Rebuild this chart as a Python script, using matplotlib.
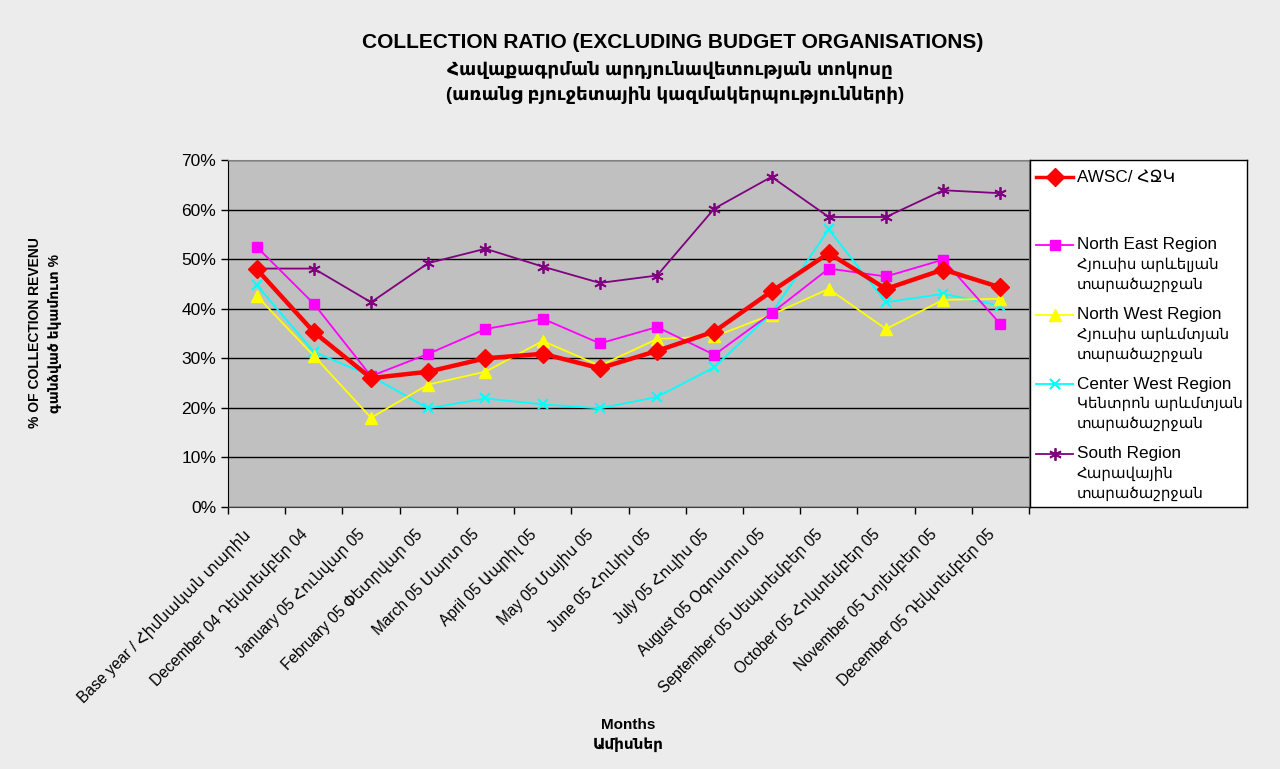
import numpy as np
import matplotlib
matplotlib.use("Agg")
import matplotlib.pyplot as plt
from matplotlib.ticker import FuncFormatter, MultipleLocator
from matplotlib.lines import Line2D
from matplotlib.transforms import ScaledTranslation

plt.rcParams['font.family'] = ['Liberation Sans', 'DejaVu Sans']

# data (percent)
months = [
    "Base year / Հիմնական տարին",
    "December 04 Դեկտեմբեր 04",
    "January 05 Հունվար 05",
    "February 05 Փետրվար 05",
    "March 05 Մարտ 05",
    "April 05 Ապրիլ 05",
    "May 05 Մայիս 05",
    "June 05 Հունիս 05",
    "July 05 Հուլիս 05",
    "August 05 Օգոստոս 05",
    "September 05 Սեպտեմբեր 05",
    "October 05 Հոկտեմբեր 05",
    "November 05 Նոյեմբեր 05",
    "December 05 Դեկտեմբեր 05",
]
awsc = [48.0, 35.3, 26.0, 27.3, 30.0, 30.9, 28.0, 31.5, 35.4, 43.5, 51.2, 44.0, 47.9, 44.3]
north_east = [52.5, 41.0, 26.4, 30.9, 35.9, 38.0, 33.0, 36.3, 30.7, 39.1, 48.1, 46.5, 49.9, 36.9]
north_west = [42.6, 30.5, 18.0, 24.7, 27.3, 33.5, 28.5, 33.9, 34.4, 38.8, 44.0, 35.9, 41.8, 42.0]
center_west = [44.8, 31.3, 26.4, 19.9, 21.9, 20.7, 19.9, 22.2, 28.2, 39.1, 56.0, 41.3, 43.0, 40.6]
south = [48.1, 48.1, 41.3, 49.2, 52.1, 48.5, 45.2, 46.7, 60.2, 66.6, 58.5, 58.5, 63.9, 63.3]

labels = [
    ["AWSC/ ՀՋԿ"],
    ["North East Region", "Հյուսիս արևելյան", "տարածաշրջան"],
    ["North West Region", "Հյուսիս արևմտյան", "տարածաշրջան"],
    ["Center West Region", "Կենտրոն արևմտյան", "տարածաշրջան"],
    ["South Region", "Հարավային", "տարածաշրջան"],
]

STAR = (6, 2, 0)
styles = [
    dict(color='#ff0000', lw=3.2, marker='D', ms=9, mfc='#ff0000', mec='#ff0000', zorder=6),
    dict(color='#ff00ff', lw=1.3, marker='s', ms=7.5, mfc='#ff00ff', mec='#ff00ff', zorder=5),
    dict(color='#ffff00', lw=1.3, marker='^', ms=8.5, mfc='#ffff00', mec='#ffff00', zorder=4),
    dict(color='#00ffff', lw=1.3, marker='x', ms=7.5, mec='#00ffff', mew=1.5, zorder=4),
    dict(color='#800080', lw=1.3, marker=STAR, ms=9, mec='#800080', mew=1.3, zorder=3),
]
series = [awsc, north_east, north_west, center_west, south]

fig = plt.figure(figsize=(12.8, 7.69), dpi=100)
fig.patch.set_facecolor('#ececec')

ax = fig.add_axes([228 / 1280, 1 - 507 / 769, 801 / 1280, 347 / 769])
ax.set_facecolor('#c0c0c0')

x = np.arange(len(months))
# draw the south series first so the red line sits on top
for vals, st in reversed(list(zip(series, styles))):
    ax.plot(x, vals, **st)

ax.set_xlim(-0.5, len(months) - 0.5)
ax.set_ylim(0, 70)
ax.yaxis.set_major_locator(MultipleLocator(10))
ax.yaxis.set_major_formatter(FuncFormatter(lambda v, p: f"{v:.0f}%"))
ax.grid(axis='y', color='black', lw=1)
ax.set_axisbelow(True)

ax.set_xticks(x)
ax.set_xticklabels(months, rotation=45, ha='right', rotation_mode='anchor', fontsize=11.2)
ax.set_xticks(np.arange(-0.5, len(months)), minor=True)
ax.tick_params(axis='x', which='major', length=0, pad=12)
ax.tick_params(axis='x', which='minor', length=5, direction='out', width=1)
ax.tick_params(axis='y', length=5, direction='out', width=1, labelsize=12.5)
shift = ScaledTranslation(-0.14, -0.03, fig.dpi_scale_trans)
for lbl in ax.get_xticklabels():
    lbl.set_transform(lbl.get_transform() + shift)

for side in ['top', 'right']:
    ax.spines[side].set_color('#808080')
ax.spines['left'].set_color('black')
ax.spines['bottom'].set_color('#404040')

# titles
fig.text(673 / 1280, 1 - 43 / 769, "COLLECTION RATIO (EXCLUDING BUDGET ORGANISATIONS)",
         ha='center', va='center', fontsize=15, fontweight='bold')
fig.text(670 / 1280, 1 - 70 / 769, "Հավաքագրման արդյունավետության տոկոսը",
         ha='center', va='center', fontsize=13.2, fontweight='bold')
fig.text(675 / 1280, 1 - 95 / 769, "(առանց բյուջետային կազմակերպությունների)",
         ha='center', va='center', fontsize=13.2, fontweight='bold')

fig.text(45 / 1280, 1 - 333 / 769, "% OF COLLECTION REVENU\nգանձված եկամուտ %",
         rotation=90, ha='center', va='center', fontsize=10, fontweight='bold',
         multialignment='center', linespacing=1.5)
fig.text(628 / 1280, 1 - 735 / 769, "Months\nԱմիսներ", ha='center', va='center',
         fontsize=11, fontweight='bold', linespacing=1.4)

# legend box drawn as its own axes
lax = fig.add_axes([1030 / 1280, 1 - 507 / 769, 217 / 1280, 347 / 769])
lax.set_facecolor('white')
lax.set_xlim(0, 217)
lax.set_ylim(347, 0)
lax.set_xticks([])
lax.set_yticks([])
for sp in lax.spines.values():
    sp.set_color('black')
    sp.set_linewidth(1)

entry_y = [17, 85, 155, 224, 294]
for st, lines, yy in zip(styles, labels, entry_y):
    kw = {k: v for k, v in st.items() if k != 'zorder'}
    kw['lw'] = min(kw['lw'], 2.5)
    lax.add_line(Line2D([6, 24.5, 43], [yy, yy, yy], markevery=[1], **kw))
    for i, line in enumerate(lines):
        lax.text(47, yy + 20 * i, line, ha='left', va='center',
                 fontsize=12.3 if i == 0 else 10.8)

fig.savefig("out.png", dpi=100, facecolor=fig.get_facecolor())
